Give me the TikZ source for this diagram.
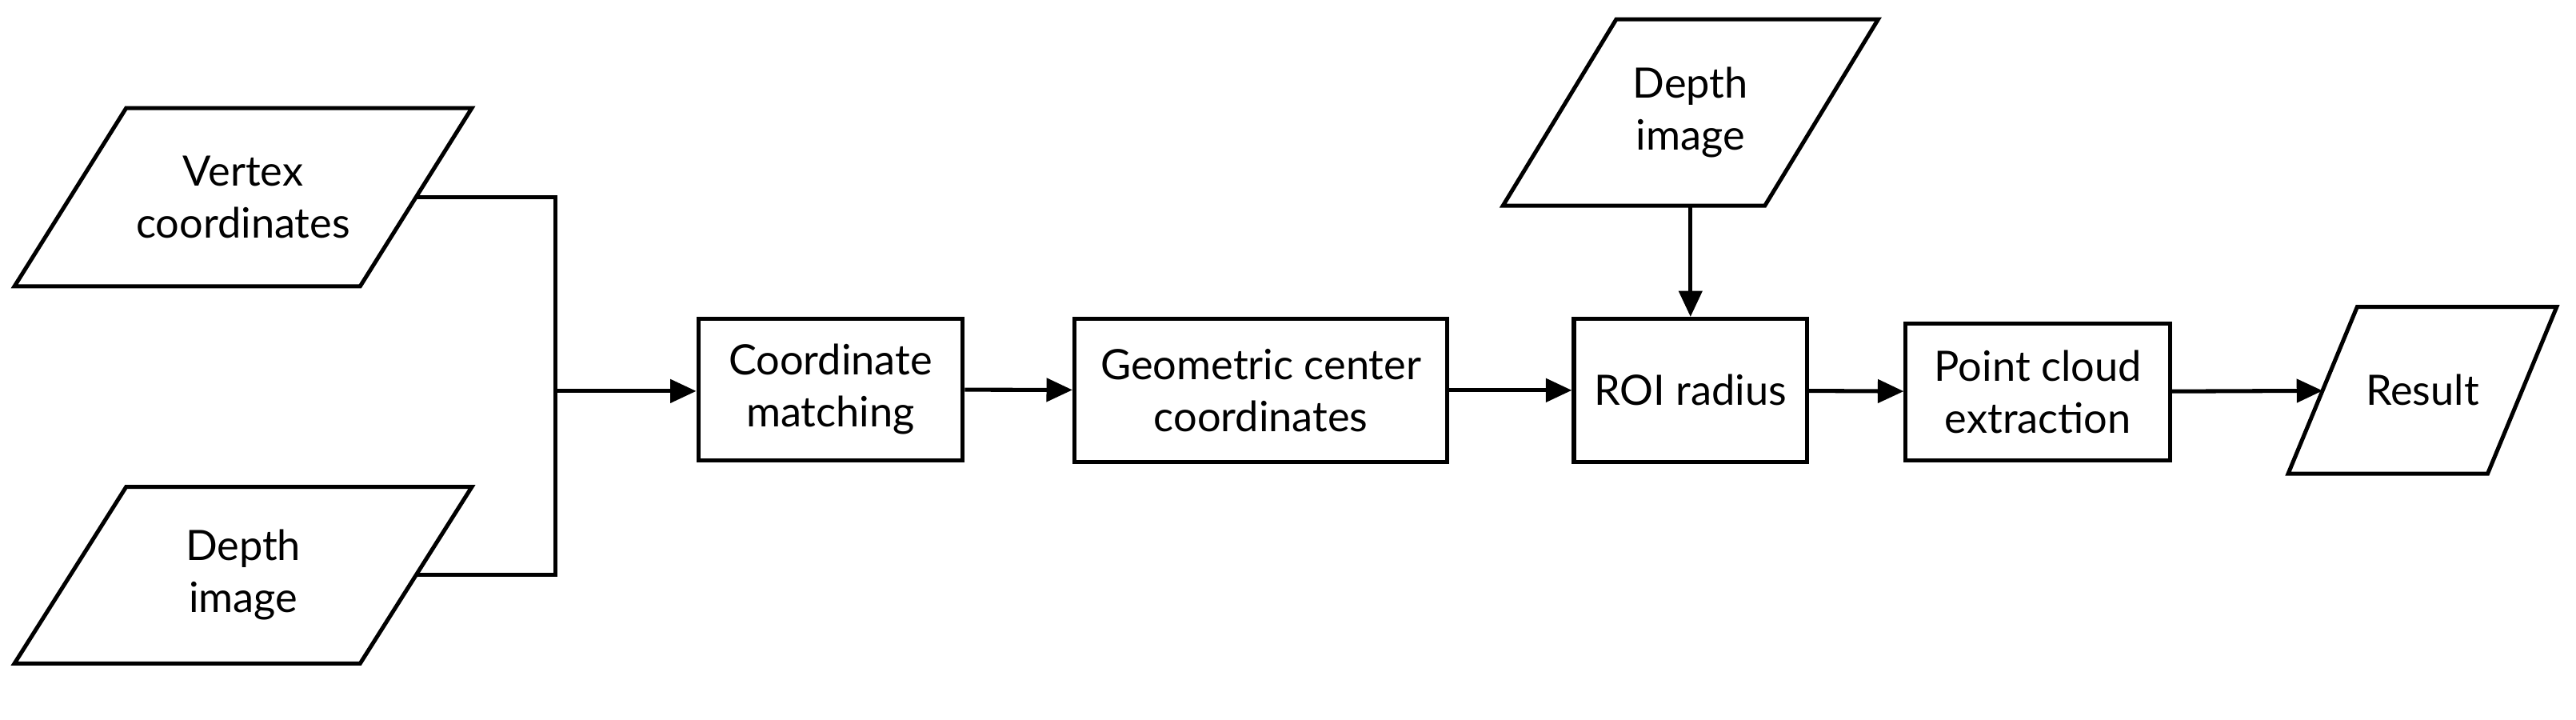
\documentclass[tikz,border=0pt]{standalone}
\usepackage{fontspec}
\setmainfont{Lato}
\usetikzlibrary{arrows.meta}
\tikzset{>={Triangle[length=9pt,width=8pt]}}
\tikzset{
  box/.style={draw=black,line width=1.4pt,align=center,font=\fontsize{14.5}{18}\selectfont,inner sep=0pt},
  data/.style={box,draw=none},
  link/.style={draw=black,line width=1.4pt}
}
% parallelogram round a named node, #2 = half the slant offset
\def\slant#1#2{\draw[link,line join=miter] ([xshift=#2]#1.north west) -- ([xshift=#2]#1.north east)
  -- ([xshift=-#2]#1.south east) -- ([xshift=-#2]#1.south west) -- cycle;}
\begin{document}
\begin{tikzpicture}[x=0.02cm,y=-0.02cm]
          \useasboundingbox (0,0) rectangle (1568,438);
          \node[data, minimum width=4.16cm, minimum height=2.12cm] (vc) at (148,120) {Vertex\\coordinates};
          \node[data, minimum width=4.16cm, minimum height=2.1cm] (dil) at (148,350) {Depth\\image};
          \node[box, minimum width=3.22cm, minimum height=1.72cm] (cm) at (505.5,237) {Coordinate\\matching};
          \node[box, minimum width=4.54cm, minimum height=1.74cm] (gc) at (767.5,237.5) {Geometric center\\coordinates};
          \node[box, minimum width=2.84cm, minimum height=1.74cm] (roi) at (1029,237.5) {ROI radius};
          \node[data, minimum width=3.14cm, minimum height=2.22cm] (dit) at (1029,68.5) {Depth\\image};
          \node[box, minimum width=3.22cm, minimum height=1.66cm] (pc) at (1240.5,238.5) {Point cloud\\extraction};
          \node[data, minimum width=2.38cm, minimum height=1.98cm] (res) at (1474.5,237.5) {Result};
          \slant{vc}{0.68cm}
          \slant{dil}{0.68cm}
          \slant{dit}{0.69cm}
          \slant{res}{0.42cm}
          \coordinate (jt) at (338,120);
          \coordinate (jb) at (338,350);
          \coordinate (jm) at (338,238);

          \path[link] (vc.east) -- (jt) -- (jb) -- (dil.east);
          \path[link,->] (jm) -- (cm.west |- jm);
          \path[link,->] (cm) -- (gc);
          \path[link,->] (gc) -- (roi);
          \path[link,->] (dit) -- (roi);
          \path[link,->] (roi) -- (pc);
          \path[link,->] (pc) -- (res);
        \end{tikzpicture}
\end{document}
